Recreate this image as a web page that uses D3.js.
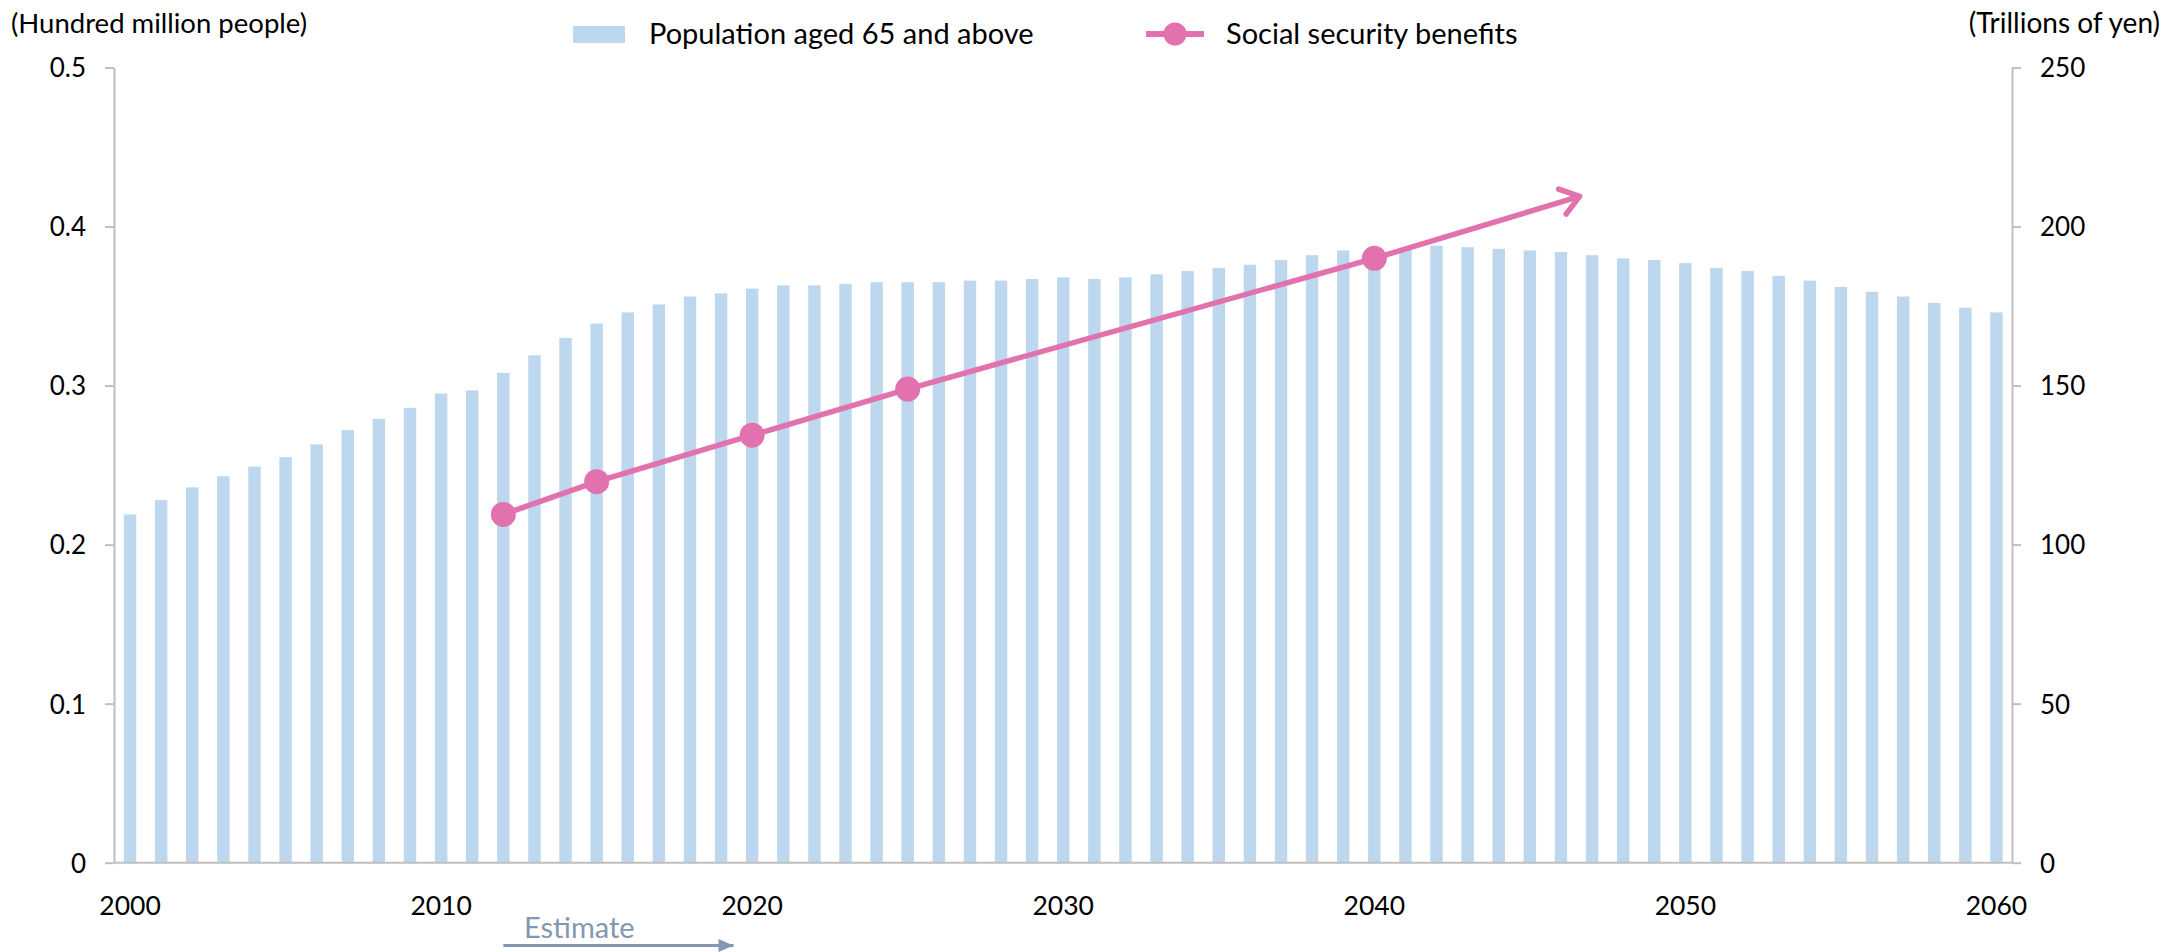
<!DOCTYPE html>
<html>
<head>
<meta charset="utf-8">
<script src="https://cdn.jsdelivr.net/npm/d3@7"></script>
<style>
  html, body { margin: 0; padding: 0; background: #fff; }
  svg { display: block; font-family: Lato, "Open Sans", sans-serif; }
</style>
</head>
<body>
<svg id="chart" width="2167" height="952"></svg>
<script>
// ---------------- data ----------------
const years = [2000,2001,2002,2003,2004,2005,2006,2007,2008,2009,
               2010,2011,2012,2013,2014,2015,2016,2017,2018,2019,
               2020,2021,2022,2023,2024,2025,2026,2027,2028,2029,
               2030,2031,2032,2033,2034,2035,2036,2037,2038,2039,
               2040,2041,2042,2043,2044,2045,2046,2047,2048,2049,
               2050,2051,2052,2053,2054,2055,2056,2057,2058,2059,2060];
// Population aged 65 and above (hundred million people)
const population = [0.219,0.228,0.236,0.243,0.249,0.255,0.263,0.272,0.279,0.286,
                    0.295,0.297,0.308,0.319,0.330,0.339,0.346,0.351,0.356,0.358,
                    0.361,0.363,0.363,0.364,0.365,0.365,0.365,0.366,0.366,0.367,
                    0.368,0.367,0.368,0.370,0.372,0.374,0.376,0.379,0.382,0.385,
                    0.386,0.386,0.388,0.387,0.386,0.385,0.384,0.382,0.380,0.379,
                    0.377,0.374,0.372,0.369,0.366,0.362,0.359,0.356,0.352,0.349,0.346];
// Social security benefits (trillions of yen)
const benefitYears = [2012, 2015, 2020, 2025, 2040];
const benefitValues = [109.5, 119.8, 134.4, 148.9, 190.0];
// trend arrow continuation end (year, trillions of yen)
const trendEndYear = 2046.6;
const trendEndValue = 209.5;
// estimate arrow span (years)
const estimateStart = 2012;
const estimateEnd = 2019.4;

const leftTicks = [0, 0.1, 0.2, 0.3, 0.4, 0.5];
const leftTickLabels = ["0", "0.1", "0.2", "0.3", "0.4", "0.5"];
const rightTicks = [0, 50, 100, 150, 200, 250];
const rightTickLabels = ["0", "50", "100", "150", "200", "250"];
const xTickYears = [2000, 2010, 2020, 2030, 2040, 2050, 2060];

const leftTitle = "(Hundred million people)";
const rightTitle = "(Trillions of yen)";
const barLabel = "Population aged 65 and above";
const lineLabel = "Social security benefits";
const estimateLabel = "Estimate";

// ---------------- layout ----------------
const axisLeftX = 114, axisRightX = 2012;
const yBottom = 862.7, yTop = 67.5;
const barColor = "#BDD7EE";
const lineColor = "#E272AD";
const axisColor = "#BFBFBF";
const estColor = "#8497B0";

const svg = d3.select("#chart");

const x = d3.scaleBand().domain(years).range([114.5, 2012]).paddingInner(0.6).paddingOuter(0.3);
const xc = d3.scaleLinear().domain([years[0], years[years.length-1]])
  .range([x(years[0]) + x.bandwidth()/2, x(years[years.length-1]) + x.bandwidth()/2]);
const yL = d3.scaleLinear().domain([0, 0.5]).range([yBottom, yTop]);
const yR = d3.scaleLinear().domain([0, 250]).range([yBottom, yTop]);

// bars
svg.append("g").selectAll("rect").data(years).join("rect")
  .attr("x", d => x(d))
  .attr("width", x.bandwidth())
  .attr("y", (d, i) => yL(population[i]))
  .attr("height", (d, i) => yBottom - yL(population[i]))
  .attr("fill", barColor);

// left axis
const gL = svg.append("g").attr("transform", `translate(${axisLeftX},0)`)
  .call(d3.axisLeft(yL).tickValues(leftTicks).tickFormat((d, i) => leftTickLabels[i]).tickSize(9).tickPadding(19).tickSizeOuter(0));
gL.select(".domain").attr("stroke", axisColor).attr("stroke-width", 2);
gL.selectAll(".tick line").attr("stroke", axisColor).attr("stroke-width", 2);
gL.selectAll(".tick text").attr("fill", "#000").style("font-size", "26px").style("font-family", "Lato").attr("dy", "0.36em");

// right axis
const gR = svg.append("g").attr("transform", `translate(${axisRightX},0)`)
  .call(d3.axisRight(yR).tickValues(rightTicks).tickFormat((d, i) => rightTickLabels[i]).tickSize(9).tickPadding(19).tickSizeOuter(0));
gR.select(".domain").attr("stroke", axisColor).attr("stroke-width", 2);
gR.selectAll(".tick line").attr("stroke", axisColor).attr("stroke-width", 2);
gR.selectAll(".tick text").attr("fill", "#000").style("font-size", "26px").style("font-family", "Lato").attr("dy", "0.36em");

// bottom axis line
svg.append("line").attr("x1", axisLeftX).attr("x2", axisRightX)
  .attr("y1", yBottom).attr("y2", yBottom).attr("stroke", axisColor).attr("stroke-width", 2);

// x tick labels
svg.append("g").selectAll("text").data(xTickYears).join("text")
  .attr("x", d => xc(d)).attr("y", 915)
  .attr("text-anchor", "middle").attr("fill", "#000")
  .style("font-size", "26.5px").text(d => d);

// arrow marker for trend
const defs = svg.append("defs");
defs.append("marker").attr("id", "trendHead")
  .attr("markerUnits", "userSpaceOnUse").attr("viewBox", "-24 -18 30 36")
  .attr("markerWidth", 30).attr("markerHeight", 36).attr("refX", 0).attr("refY", 0)
  .attr("orient", "auto")
  .append("path").attr("d", "M-18,-13 L0,0 L-18,13")
  .attr("fill", "none").attr("stroke", lineColor).attr("stroke-width", 5.5)
  .attr("stroke-linecap", "round").attr("stroke-linejoin", "round");
defs.append("marker").attr("id", "estHead")
  .attr("markerUnits", "userSpaceOnUse").attr("viewBox", "-16 -7 17 14")
  .attr("markerWidth", 17).attr("markerHeight", 14).attr("refX", 0).attr("refY", 0)
  .attr("orient", "auto")
  .append("path").attr("d", "M-15,-6.5 L0,0 L-15,6.5 Z").attr("fill", estColor);

// social security line + trend arrow
const linePts = benefitYears.map((yr, i) => [xc(yr), yR(benefitValues[i])]);
svg.append("path").datum(linePts)
  .attr("d", d3.line())
  .attr("fill", "none").attr("stroke", lineColor).attr("stroke-width", 5.5);
const lastI = benefitYears.length - 1;
svg.append("path")
  .datum([[xc(benefitYears[lastI]), yR(benefitValues[lastI])], [xc(trendEndYear), yR(trendEndValue)]])
  .attr("d", d3.line())
  .attr("fill", "none").attr("stroke", lineColor).attr("stroke-width", 5.5)
  .attr("marker-end", "url(#trendHead)");
svg.append("g").selectAll("circle").data(linePts).join("circle")
  .attr("cx", d => d[0]).attr("cy", d => d[1]).attr("r", 12.5).attr("fill", lineColor);

// axis titles
svg.append("text").attr("x", 11).attr("y", 33).attr("fill", "#000")
  .style("font-size", "27.5px").text(leftTitle);
svg.append("text").attr("x", 2160).attr("y", 33).attr("text-anchor", "end").attr("fill", "#000")
  .style("font-size", "28px").text(rightTitle);

// legend
const lg = svg.append("g");
lg.append("rect").attr("x", 573).attr("y", 26).attr("width", 52).attr("height", 17).attr("fill", barColor);
lg.append("text").attr("x", 649).attr("y", 44).attr("fill", "#000").style("font-size", "29px").text(barLabel);
lg.append("line").attr("x1", 1146).attr("x2", 1204).attr("y1", 34).attr("y2", 34)
  .attr("stroke", lineColor).attr("stroke-width", 6);
lg.append("circle").attr("cx", 1175).attr("cy", 34).attr("r", 11.5).attr("fill", lineColor);
lg.append("text").attr("x", 1226).attr("y", 44).attr("fill", "#000").style("font-size", "29px").text(lineLabel);

// estimate annotation
svg.append("line").attr("x1", xc(estimateStart)).attr("x2", xc(estimateEnd))
  .attr("y1", 945.5).attr("y2", 945.5).attr("stroke", estColor).attr("stroke-width", 3)
  .attr("marker-end", "url(#estHead)");
svg.append("text").attr("x", 524).attr("y", 938).attr("fill", estColor)
  .style("font-size", "29px").text(estimateLabel);
</script>
</body>
</html>
